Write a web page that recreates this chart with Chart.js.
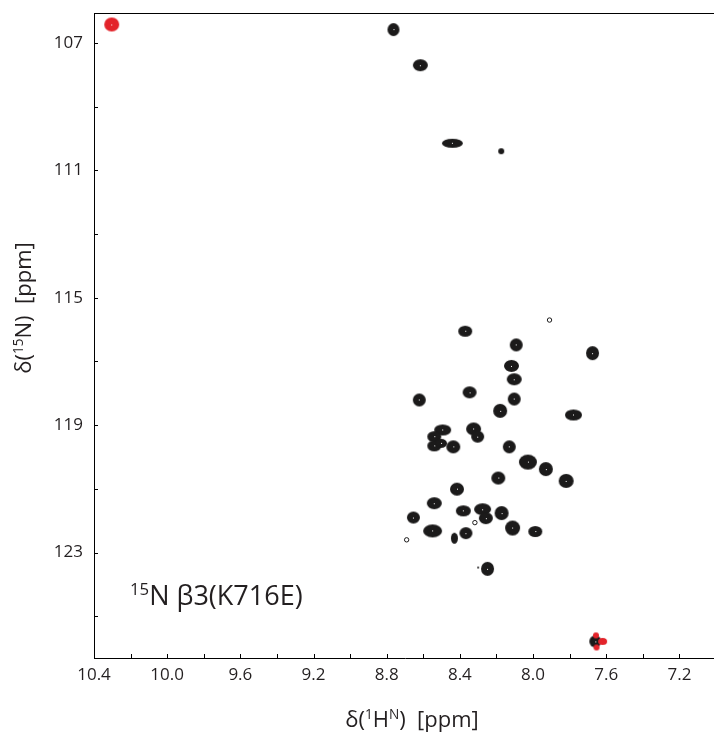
<!DOCTYPE html>
<html>
<head>
<meta charset="utf-8">
<script src="https://cdn.jsdelivr.net/npm/chart.js@4.4.1/dist/chart.umd.min.js"></script>
<style>
  html, body { margin: 0; padding: 0; background: #fff; overflow: hidden; }
  canvas { display: block; }
</style>
</head>
<body>
<canvas id="hsqc" width="722" height="736"></canvas>
<script>
// backbone amide cross peaks: 1H and 15N shifts (ppm) and linewidths (ppm)
const peakH = [8.763, 8.616, 8.441, 8.174, 8.371, 8.092, 7.675, 8.118, 8.103, 8.347,
               8.622, 8.103, 8.180, 7.779, 8.494, 8.540, 8.540, 8.503, 8.436, 8.325,
               8.303, 8.130, 8.028, 7.930, 8.190, 7.819, 8.416, 8.540, 8.654, 8.381,
               8.276, 8.258, 8.172, 8.112, 7.988, 8.549, 8.430, 8.367, 8.249, 8.300,
               7.660];
const peakN = [106.58, 107.70, 110.15, 110.40, 116.05, 116.48, 116.74, 117.14, 117.56, 117.97,
               118.21, 118.18, 118.55, 118.68, 119.15, 119.36, 119.65, 119.57, 119.68, 119.12,
               119.36, 119.68, 120.16, 120.38, 120.66, 120.75, 121.01, 121.45, 121.90, 121.69,
               121.64, 121.92, 121.76, 122.23, 122.34, 122.32, 122.55, 122.39, 123.51, 123.47,
               125.79];
const peakLwH = [0.055, 0.071, 0.098, 0.027, 0.066, 0.060, 0.060, 0.071, 0.071, 0.066,
                 0.060, 0.060, 0.066, 0.077, 0.077, 0.066, 0.066, 0.055, 0.066, 0.071,
                 0.060, 0.060, 0.082, 0.066, 0.066, 0.071, 0.066, 0.071, 0.060, 0.071,
                 0.077, 0.066, 0.066, 0.071, 0.066, 0.087, 0.033, 0.060, 0.060, 0.011,
                 0.055];
const peakLwN = [0.35, 0.31, 0.25, 0.16, 0.28, 0.35, 0.38, 0.31, 0.31, 0.31,
                 0.35, 0.35, 0.38, 0.28, 0.28, 0.28, 0.28, 0.25, 0.35, 0.35,
                 0.31, 0.35, 0.41, 0.38, 0.35, 0.38, 0.35, 0.31, 0.31, 0.28,
                 0.31, 0.31, 0.38, 0.41, 0.28, 0.35, 0.28, 0.31, 0.38, 0.06,
                 0.31];

// weak peaks, only the lowest contour level
const weakH = [7.910, 8.318, 8.691];
const weakN = [115.70, 122.06, 122.60];

// negative (folded) peaks
const negH = [10.303, 7.656, 7.653, 7.620];
const negN = [106.42, 125.60, 125.98, 125.79];
const negLwH = [0.071, 0.027, 0.027, 0.044];
const negLwN = [0.38, 0.16, 0.16, 0.19];

// axis ticks and labelled values
const hTicks = [10.4, 10.2, 10.0, 9.8, 9.6, 9.4, 9.2, 9.0, 8.8, 8.6, 8.4, 8.2, 8.0, 7.8, 7.6, 7.4, 7.2, 7.0];
const hLabels = ['10.4', '10.0', '9.6', '9.2', '8.8', '8.4', '8.0', '7.6', '7.2'];
const nTicks = [107, 109, 111, 113, 115, 117, 119, 121, 123, 125];
const nLabels = ['107', '111', '115', '119', '123'];

const FONT = '"Open Sans", "Noto Sans", sans-serif';
const INK = '#231f20';
// lowest contour reaches a bit beyond the half-height width
const CONTOUR_SPAN = 1.18;

const toXY = (hs, ns) => hs.map((h, i) => ({ x: h, y: ns[i] }));

// filled ellipse sprites, one per size and colour
const blobCache = {};
function blob(w, h, color) {
  w = Math.max(2, Math.round(w));
  h = Math.max(2, Math.round(h));
  const key = w + 'x' + h + color;
  if (blobCache[key]) return blobCache[key];
  const c = document.createElement('canvas');
  c.width = w + 2;
  c.height = h + 2;
  const g = c.getContext('2d');
  g.fillStyle = color;
  g.beginPath();
  g.ellipse(c.width / 2, c.height / 2, w / 2, h / 2, 0, 0, Math.PI * 2);
  g.fill();
  if (w > 7 && h > 7) {
    g.fillStyle = '#fff';
    g.fillRect(Math.floor(c.width / 2), Math.floor(c.height / 2), 1, 1);
  }
  blobCache[key] = c;
  return c;
}

function peakStyle(lwH, lwN, color) {
  return ctx => {
    const { x, y } = ctx.chart.scales;
    const i = ctx.dataIndex;
    const w = Math.abs(x.getPixelForValue(x.min) - x.getPixelForValue(x.min + lwH[i]));
    const h = Math.abs(y.getPixelForValue(y.min) - y.getPixelForValue(y.min + lwN[i]));
    return blob(w * CONTOUR_SPAN, h * CONTOUR_SPAN, color);
  };
}

// text with superscript runs
function richText(ctx, parts, x, y, size, align) {
  const sup = size * 0.62;
  const widths = parts.map(p => {
    ctx.font = (p.sup ? sup : size) + 'px ' + FONT;
    return ctx.measureText(p.t).width;
  });
  const total = widths.reduce((a, b) => a + b, 0);
  let cx = align === 'center' ? x - total / 2 : x;
  parts.forEach((p, i) => {
    ctx.font = (p.sup ? sup : size) + 'px ' + FONT;
    ctx.fillText(p.t, cx, p.sup ? y - size * 0.36 : y);
    cx += widths[i];
  });
}

const frame = {
  id: 'frame',
  afterDraw(chart) {
    const { ctx, chartArea: a, scales: { x, y } } = chart;
    ctx.save();
    ctx.strokeStyle = '#000';
    ctx.lineWidth = 1;
    ctx.beginPath();
    ctx.moveTo(a.left, Math.round(a.top) + 0.5);
    ctx.lineTo(a.right, Math.round(a.top) + 0.5);
    // ticks point into the plot
    x.ticks.forEach(t => {
      const px = Math.round(x.getPixelForValue(t.value)) + 0.5;
      ctx.moveTo(px, a.bottom);
      ctx.lineTo(px, a.bottom - 4);
    });
    y.ticks.forEach(t => {
      const py = Math.round(y.getPixelForValue(t.value)) + 0.5;
      ctx.moveTo(a.left, py);
      ctx.lineTo(a.left + 4, py);
    });
    ctx.stroke();

    ctx.fillStyle = INK;
    ctx.textBaseline = 'alphabetic';
    ctx.textAlign = 'left';
    richText(ctx, [{ t: 'δ(' }, { t: '1', sup: true }, { t: 'H' }, { t: 'N', sup: true }, { t: ')  [ppm]' }],
      412, 727, 22, 'center');

    ctx.save();
    ctx.translate(31, 308);
    ctx.rotate(-Math.PI / 2);
    richText(ctx, [{ t: 'δ(' }, { t: '15', sup: true }, { t: 'N)  [ppm]' }], 0, 0, 22, 'center');
    ctx.restore();

    richText(ctx, [{ t: '15', sup: true }, { t: 'N β3(K716E)' }], 130, 605, 27, 'left');
    ctx.restore();
  }
};

new Chart(document.getElementById('hsqc'), {
  type: 'scatter',
  data: {
    datasets: [
      {
        data: toXY(negH, negN),
        pointStyle: peakStyle(negLwH, negLwN, '#e3232a'),
        pointRadius: 5
      },
      {
        data: toXY(peakH, peakN),
        pointStyle: peakStyle(peakLwH, peakLwN, '#1b1a1a'),
        pointRadius: 5
      },
      {
        data: toXY(weakH, weakN),
        pointStyle: 'circle',
        pointRadius: 2.2,
        borderWidth: 1,
        borderColor: '#1b1a1a',
        backgroundColor: '#fff'
      }
    ]
  },
  options: {
    responsive: false,
    devicePixelRatio: 1,
    animation: false,
    events: [],
    layout: { padding: { top: 13, right: 0, left: 0, bottom: 0 } },
    plugins: {
      legend: { display: false },
      tooltip: { enabled: false }
    },
    scales: {
      x: {
        type: 'linear',
        reverse: true,
        min: 7.0,
        max: 10.4,
        afterBuildTicks: s => { s.ticks = hTicks.map(v => ({ value: v })); },
        afterFit: s => { s.height = 78; s.paddingLeft = 0; s.paddingRight = 0; },
        ticks: {
          autoSkip: false,
          maxRotation: 0,
          padding: 7,
          color: INK,
          font: { family: FONT, size: 17 },
          callback: v => hLabels.includes(v.toFixed(1)) ? v.toFixed(1) : ''
        },
        grid: { display: false, drawTicks: false },
        border: { display: true, color: '#000', width: 1 }
      },
      y: {
        type: 'linear',
        reverse: true,
        min: 106.06,
        max: 126.31,
        afterBuildTicks: s => { s.ticks = nTicks.map(v => ({ value: v })); },
        afterFit: s => { s.width = 94; s.paddingTop = 0; s.paddingBottom = 0; },
        ticks: {
          autoSkip: false,
          padding: 11,
          color: INK,
          font: { family: FONT, size: 17 },
          callback: v => nLabels.includes(String(v)) ? String(v) : ''
        },
        grid: { display: false, drawTicks: false },
        border: { display: true, color: '#000', width: 1 }
      }
    }
  },
  plugins: [frame]
});
</script>
</body>
</html>
